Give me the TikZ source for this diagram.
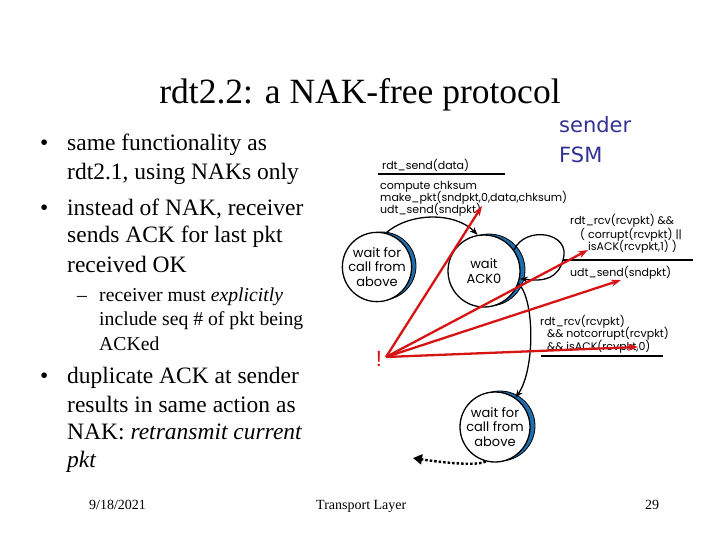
\documentclass[tikz,border=0pt]{standalone}
\usepackage{fontspec}
\setmainfont{Liberation Serif}
\newfontfamily\fsmfont{Poppins}
\newfontfamily\bluefont{DejaVu Sans}
\newfontfamily\bangfont{Liberation Sans}
\usetikzlibrary{arrows.meta}
\definecolor{redarr}{RGB}{215,20,20}
\definecolor{crescent}{RGB}{30,110,175}
\definecolor{fsmblue}{RGB}{50,50,150}
\begin{document}
\begin{tikzpicture}[x=1pt,y=-1pt,
  txt/.style={inner sep=0pt, anchor=base west},
  bigtxt/.style={txt, font=\fontsize{23.5}{28}\selectfont},
  subtxt/.style={txt, font=\fontsize{19.7}{22}\selectfont},
  foot/.style={inner sep=0pt, anchor=base west, font=\fontsize{14}{16}\selectfont},
  fsm/.style={txt, font=\fsmfont\fontsize{11}{12}\selectfont},
  state/.style={circle, draw, line width=1.3pt, fill=white, minimum size=#1, inner sep=0pt, align=center, font=\fsmfont\fontsize{13}{14.5}\selectfont},
  cres/.style={fill=crescent, draw=black, line width=0.8pt},
  fsmarrow/.style={draw, line width=1.3pt, -{Stealth[length=8pt,width=6pt]}},
  redline/.style={draw=redarr, line width=2.3pt, -{Stealth[length=10pt,width=7pt]}},
  rule/.style={draw, line width=1.5pt}
]
\useasboundingbox (0,0) rectangle (720,540);

% title
\node[anchor=base, inner sep=0pt, font=\fontsize{35.5}{40}\selectfont] (title) at (360,104) {rdt2.2: a NAK-free protocol};

% sender FSM label
\node[txt, font=\bluefont\fontsize{21}{24}\selectfont, text=fsmblue] (snd) at (559,133) {sender};
\node[txt, font=\bluefont\fontsize{21}{24}\selectfont, text=fsmblue] (fsmlbl) at (559,163) {FSM};

% bullets
\node[bigtxt] (bu1) at (40,151) {•};
\node[bigtxt] (l1a) at (67,151) {same functionality as};
\node[bigtxt] (l1b) at (67,180) {rdt2.1, using NAKs only};
\node[bigtxt] (bu2) at (40,215) {•};
\node[bigtxt] (l2a) at (67,215) {instead of NAK, receiver};
\node[bigtxt] (l2b) at (67,243) {sends ACK for last pkt};
\node[bigtxt] (l2c) at (67,272) {received OK};
\node[subtxt] (da) at (77,301) {–};
\node[subtxt] (l3a) at (99,301) {receiver must \textit{explicitly}};
\node[subtxt] (l3b) at (99,325) {include seq \# of pkt being};
\node[subtxt] (l3c) at (99,350) {ACKed};
\node[bigtxt] (bu4) at (40,383) {•};
\node[bigtxt] (l4a) at (67,383) {duplicate ACK at sender};
\node[bigtxt] (l4b) at (67,412) {results in same action as};
\node[bigtxt] (l4c) at (67,439) {NAK: \textit{retransmit current}};
\node[bigtxt] (l4d) at (67,467) {\textit{pkt}};

% footer
\node[foot] (date) at (89,509) {9/18/2021};
\node[foot] (tl) at (316,509) {Transport Layer};
\node[foot] (pg) at (645,509) {29};

% states
\fill[cres] (382,266) circle[radius=34pt];
\node[state=66pt] (cL) at (377,267) {wait for\\call from\\above};
\fill[cres] (489,270) circle[radius=36pt];
\node[state=72pt] (cA) at (484,271) {wait\\ACK0};
\fill[cres] (500,426) circle[radius=35pt];
\node[state=70pt] (cB) at (495,427) {wait for\\call from\\above};

% FSM transitions
\draw[fsmarrow] (cL.75) .. controls (410,212) and (455,212) .. (cA.100);
\draw[fsmarrow] (cA.35) .. controls (525,225) and (572,232) .. (563,260) .. controls (558,278) and (545,282) .. (cA.-12);
\draw[fsmarrow] (cA.-20) .. controls (535,300) and (535,370) .. (cB.55);
\coordinate (dotend) at (413,458);
\draw[line width=2.4pt, dash pattern=on 2.5pt off 2pt, -{Triangle[length=9pt,width=10pt]}] (cB.-105) .. controls (478,466) and (445,463) .. (dotend);

% labels
\node[fsm] (e1) at (382,170) {rdt\_send(data)};
\draw[rule] (378,174) -- (505,174);
\node[fsm] (a1) at (380,190) {compute chksum};
\node[fsm] (a2) at (380,202) {make\_pkt(sndpkt,0,data,chksum)};
\node[fsm] (a3) at (380,214) {udt\_send(sndpkt)};

\node[fsm] (e2) at (570,225) {rdt\_rcv(rcvpkt) \&\&};
\node[fsm] (e2b) at (580,239) {( corrupt(rcvpkt) ||};
\node[fsm] (e2c) at (588,251) {isACK(rcvpkt,1) )};
\draw[rule] (563,260) -- (693,260);
\node[fsm] (a4) at (570,276) {udt\_send(sndpkt)};

\node[fsm] (e3) at (540,325) {rdt\_rcv(rcvpkt)};
\node[fsm] (e3b) at (547,337) {\&\& notcorrupt(rcvpkt)};
\node[fsm] (e3c) at (547,350) {\&\& isACK(rcvpkt,0)};
\draw[rule] (541,356) -- (663,356);

% red pointers
\node[anchor=base, inner sep=0pt, text=redarr, font=\bangfont\fontsize{22}{24}\selectfont] (bang) at (379,366) {!};
\coordinate (src) at (386,357);
\coordinate (t1) at (482,206);
\coordinate (t2) at (588,250);
\coordinate (t3) at (621,280);
\coordinate (t4) at (638,347);
\draw[redline] (src) -- (t1);
\draw[redline] (src) -- (t2);
\draw[redline] (src) -- (t3);
\draw[redline] (src) -- (t4);
\end{tikzpicture}
\end{document}
